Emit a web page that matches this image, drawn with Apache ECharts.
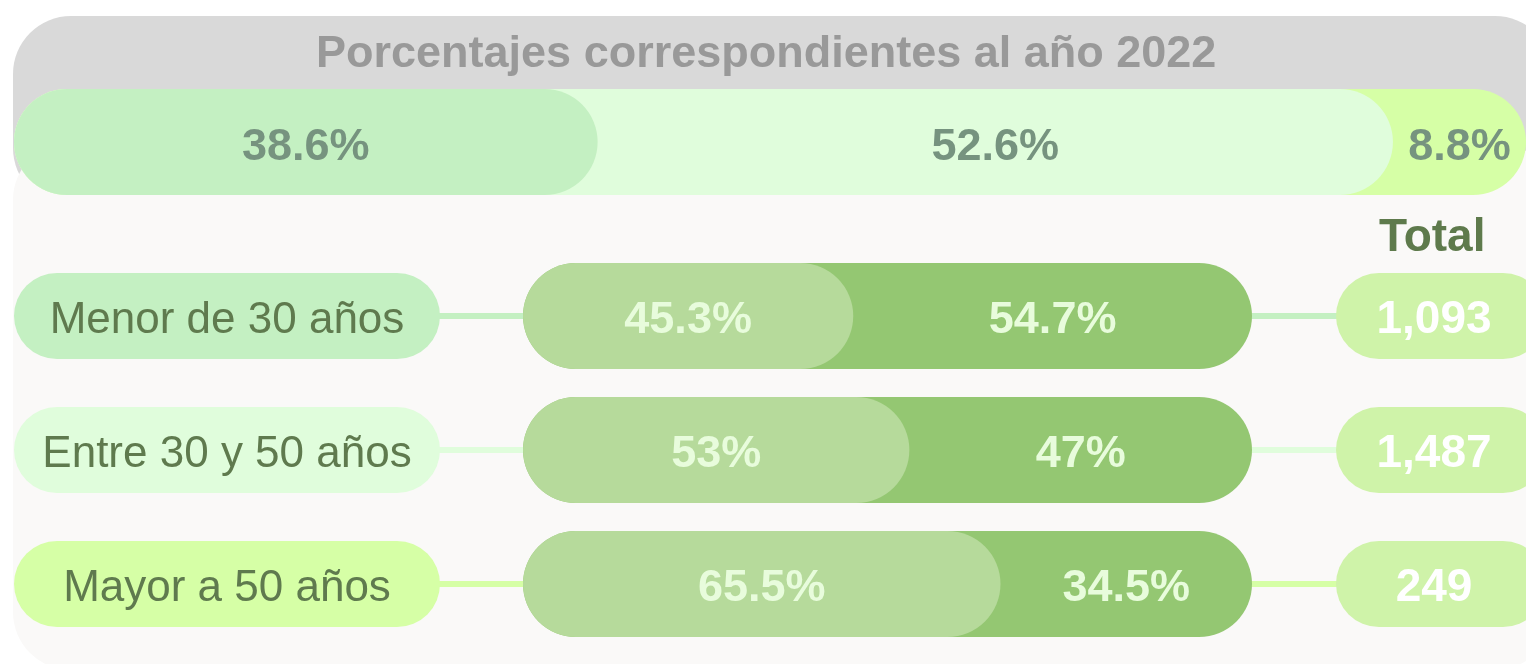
<!DOCTYPE html>
<html>
<head>
    <meta charset="utf-8">
    <title>Porcentajes 2022</title>
    <style>
        html, body { margin: 0; padding: 0; background: #fff; }
        #main { width: 1526px; height: 664px; }
    </style>
</head>
<body>
    <div id="main"></div>
    <script src="https://cdn.jsdelivr.net/npm/echarts@6/dist/echarts.min.js"></script>
    <script>
    // top band: share of each age group in 2022
    var shareGroups = ['Menor de 30 años', 'Entre 30 y 50 años', 'Mayor a 50 años'];
    var shareValues = [38.6, 52.6, 8.8];

    // rows: split of each age group
    var ageGroups = ['Menor de 30 años', 'Entre 30 y 50 años', 'Mayor a 50 años'];
    var firstPart = [45.3, 53, 65.5];
    var secondPart = [54.7, 47, 34.5];
    var totals = [1093, 1487, 249];

    var FONT = '"Liberation Sans", Arial, Helvetica, sans-serif';
    var groupColors = ['#c4f0c2', '#e0fddc', '#d6ffa6'];
    var clear = 'rgba(0,0,0,0)';

    var myChart = echarts.init(document.getElementById('main'));

    // cumulative ends, so each segment can sit under the rounded end of the previous one
    var cum = [];
    shareValues.reduce(function (acc, v, i) { cum[i] = acc + v; return cum[i]; }, 0);

    var series = [];

    // top band, drawn back to front
    for (var i = shareValues.length - 1; i >= 0; i--) {
        series.push({
            type: 'bar',
            xAxisIndex: 0,
            yAxisIndex: 0,
            data: [cum[i]],
            barWidth: 106,
            barGap: '-100%',
            itemStyle: { color: groupColors[i], borderRadius: 53 },
            silent: true,
            z: 2
        });
    }
    // labels for the top band
    shareValues.forEach(function (v, i) {
        series.push({
            type: 'bar',
            xAxisIndex: 0,
            yAxisIndex: 0,
            stack: 'share',
            data: [v],
            barWidth: 106,
            barGap: '-100%',
            itemStyle: { color: clear },
            label: {
                show: true,
                position: 'inside',
                offset: [0, 6],
                formatter: v + '%',
                fontFamily: FONT,
                fontSize: 45,
                fontWeight: 'bold',
                color: '#76937f'
            },
            silent: true,
            z: 3
        });
    });

    var rowLabel = {
        show: true,
        position: 'inside',
        offset: [0, 5],
        formatter: '{c}%',
        fontFamily: FONT,
        fontSize: 45,
        fontWeight: 'bold',
        color: '#e8fcdc'
    };

    // rows: full bar (dark) behind, first part (light) on top
    series.push({
        type: 'bar',
        xAxisIndex: 1,
        yAxisIndex: 1,
        data: firstPart.map(function (v, i) { return v + secondPart[i]; }),
        barWidth: 106,
        barGap: '-100%',
        itemStyle: { color: '#94c772', borderRadius: 53 },
        silent: true,
        z: 2
    });
    series.push({
        type: 'bar',
        xAxisIndex: 1,
        yAxisIndex: 1,
        stack: 'part',
        data: firstPart,
        barWidth: 106,
        barGap: '-100%',
        itemStyle: { color: '#b6da9b', borderRadius: 53 },
        label: rowLabel,
        silent: true,
        z: 3
    });
    series.push({
        type: 'bar',
        xAxisIndex: 1,
        yAxisIndex: 1,
        stack: 'part',
        data: secondPart,
        barWidth: 106,
        barGap: '-100%',
        itemStyle: { color: clear },
        label: rowLabel,
        silent: true,
        z: 3
    });

    // category pills on the left, totals on the right, joined to the bars
    series.push({
        type: 'custom',
        xAxisIndex: 1,
        yAxisIndex: 1,
        data: ageGroups.map(function (g, i) { return [0, i, totals[i]]; }),
        encode: { x: 0, y: 1 },
        silent: true,
        z: 1,
        renderItem: function (params, api) {
            var idx = api.value(1);
            var y = api.coord([0, idx])[1];
            var cs = params.coordSys;
            var color = groupColors[idx];
            var pillL = 14, pillW = 426, pillH = 86;
            var totL = 1336, totW = 210;
            return {
                type: 'group',
                children: [
                    { type: 'line', shape: { x1: pillL + pillW - 5, y1: y, x2: cs.x + 5, y2: y }, style: { stroke: color, lineWidth: 6 } },
                    { type: 'line', shape: { x1: cs.x + cs.width - 5, y1: y, x2: totL + 5, y2: y }, style: { stroke: color, lineWidth: 6 } },
                    { type: 'rect', shape: { x: pillL, y: y - pillH / 2, width: pillW, height: pillH, r: pillH / 2 }, style: { fill: color } },
                    { type: 'text', style: { text: ageGroups[idx], x: pillL + pillW / 2, y: y + 5, align: 'center', verticalAlign: 'middle', font: '44px ' + FONT, fill: '#5f7a4e' } },
                    { type: 'rect', shape: { x: totL, y: y - pillH / 2, width: totW, height: pillH, r: pillH / 2 }, style: { fill: '#cff3a9' } },
                    { type: 'text', style: { text: echarts.format.addCommas(api.value(2)), x: totL + 98, y: y + 4, align: 'center', verticalAlign: 'middle', font: 'bold 46px ' + FONT, fill: '#ffffff' } }
                ]
            };
        }
    });

    var options = {
        backgroundColor: '#ffffff',
        animation: false,
        title: [{
            text: 'Porcentajes correspondientes al año 2022',
            left: 316,
            top: 32,
            padding: 0,
            textStyle: { fontFamily: FONT, fontSize: 45, fontWeight: 'bold', color: '#999999' }
        }, {
            text: 'Total',
            left: 1379,
            top: 215,
            padding: 0,
            textStyle: { fontFamily: FONT, fontSize: 46, fontWeight: 'bold', color: '#5e7a4c' }
        }],
        graphic: [
            { type: 'rect', z: -10, shape: { x: 13, y: 16, width: 1540, height: 190, r: 58 }, style: { fill: '#d9d9d9' } },
            { type: 'rect', z: -9, shape: { x: 13, y: 142, width: 1540, height: 528, r: 58 }, style: { fill: '#faf9f8' } }
        ],
        grid: [
            { left: 14, top: 89, width: 1512, height: 106 },
            { left: 523, top: 249, width: 729, height: 402 }
        ],
        xAxis: [
            { gridIndex: 0, type: 'value', min: 0, max: 100, show: false },
            { gridIndex: 1, type: 'value', min: 0, max: 100, show: false }
        ],
        yAxis: [
            { gridIndex: 0, type: 'category', data: ['2022'], show: false },
            { gridIndex: 1, type: 'category', data: ageGroups, inverse: true, show: false }
        ],
        series: series
    };
    myChart.setOption(options);
    </script>
</body>
</html>
